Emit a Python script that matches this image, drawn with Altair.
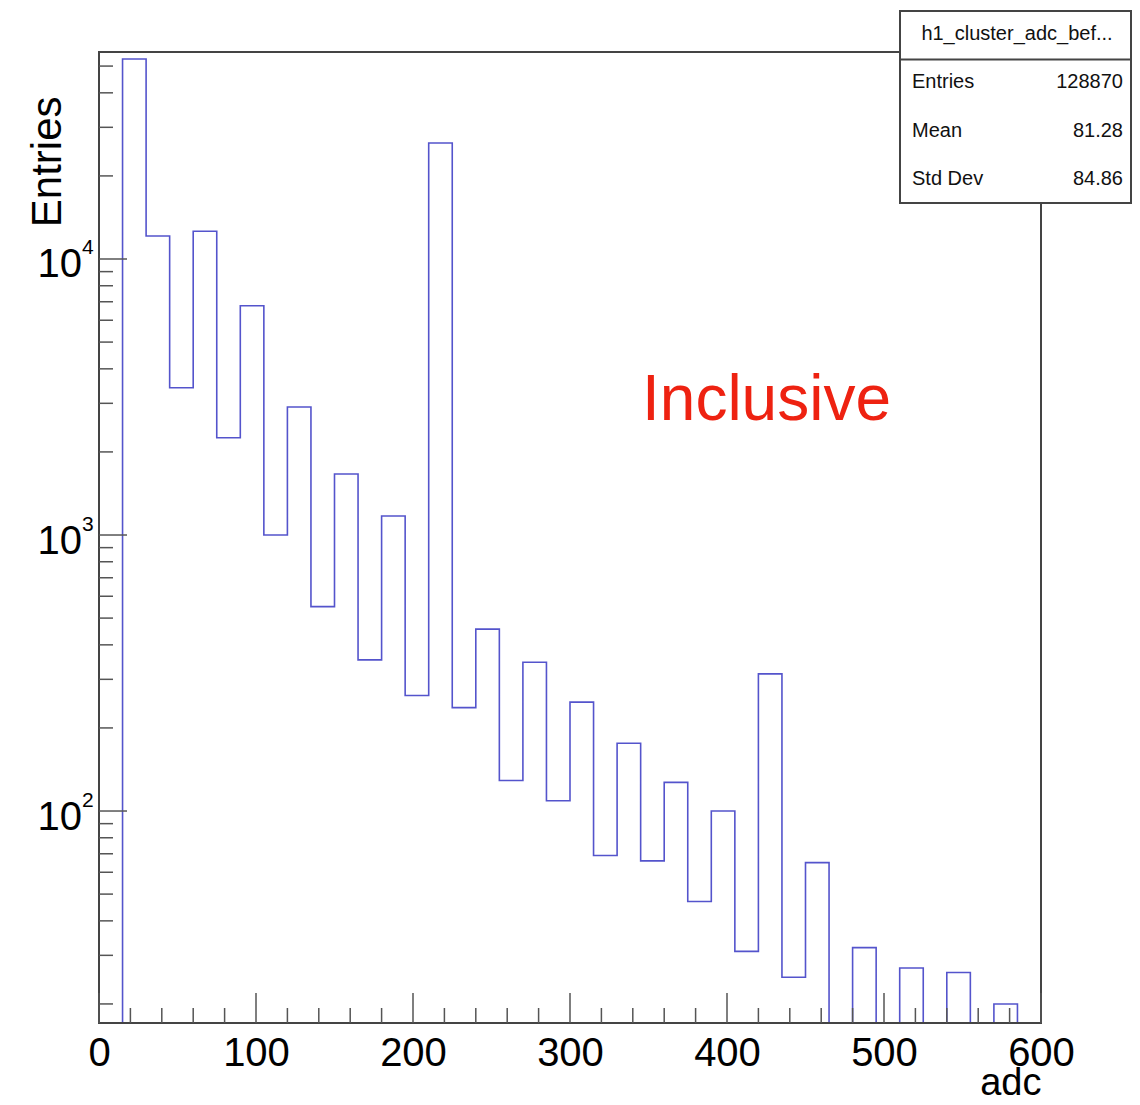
import altair as alt
import pandas as pd

# ---------------- data ----------------
bin_width = 15
bin_low = list(range(15, 585, 15))  # 15 ... 570
counts = [53050, 12115, 3418, 12600, 2252, 6772, 1000, 2910, 550, 1663,
          353, 1172, 262, 26320, 237, 456, 129, 346, 109, 248,
          69, 176, 66, 127, 47, 100, 31, 314, 25, 65,
          0, 32, 0, 27, 0, 26, 0, 20]

x_major = [0, 100, 200, 300, 400, 500, 600]
x_minor = [v for v in range(20, 600, 20) if v % 100 != 0]
y_major = [100, 1000, 10000]
y_minor = [m * d for d in (10, 100, 1000, 10000) for m in range(2, 10) if 17 < m * d < 56000]
y_exponents = ["2", "3", "4"]

stat_title = "h1_cluster_adc_bef..."
stat_names = ["Entries", "Mean", "Std Dev"]
stat_values = ["128870", "81.28", "84.86"]

x_domain = [0, 600]
y_domain = [17.06, 56230]

# ---------------- layout ----------------
W, H = 942, 971
FONT = "Liberation Sans"
FRAME = "#444444"
TICK = "#555555"
LINE = "#5454cc"

# step-outline vertices (histogram drawn as a step line)
FLOOR = 1  # zero bins fall below the clamped log domain -> bottom of frame
xs = [bin_low[0]] + bin_low + [bin_low[-1] + bin_width]
ys = [FLOOR] + [max(c, FLOOR) for c in counts] + [FLOOR]
hist = pd.DataFrame({"x": xs, "y": ys, "i": range(len(xs))})

xscale = alt.Scale(domain=x_domain, nice=False, zero=False)
yscale = alt.Scale(type="log", domain=y_domain, nice=False, clamp=True)

line = alt.Chart(hist).mark_line(
    interpolate="step-after", color=LINE, strokeWidth=1.6
).encode(
    x=alt.X("x:Q", scale=xscale, axis=alt.Axis(
        values=x_major, format="d", grid=False, ticks=False, tickSize=0,
        domain=False, labelFont=FONT, labelFontSize=40, labelColor="black",
        labelPadding=42, labelBaseline="alphabetic", labelFlush=False,
        labelOverlap=False,
        title="adc", titleFont=FONT, titleFontSize=38, titleFontWeight="normal",
        titleColor="black", titleX=W, titleY=71, titleAlign="right",
        titleBaseline="alphabetic", titleAnchor="end")),
    y=alt.Y("y:Q", scale=yscale, axis=alt.Axis(
        labels=False, ticks=False, domain=False, grid=False,
        title="Entries", titleFont=FONT, titleFontSize=42, titleFontWeight="normal",
        titleColor="black", titleX=-39, titleY=44, titleAngle=270,
        titleAlign="right", titleBaseline="alphabetic")),
    order="i:Q",
)

one = pd.DataFrame({"k": [0]})

# bottom frame edge drawn over the histogram outline (hides zero-bin segments)
bottom_edge = alt.Chart(one).mark_rule(color=FRAME, strokeWidth=2).encode(
    x=alt.value(0), x2=alt.value(W), y=alt.value(H))

def xticks(vals, length):
    return alt.Chart(pd.DataFrame({"v": vals})).mark_rule(
        color=TICK, strokeWidth=1.5).encode(
        x=alt.X("v:Q", scale=xscale), y=alt.value(H), y2=alt.value(H - length))

def yticks(vals, length):
    return alt.Chart(pd.DataFrame({"v": vals})).mark_rule(
        color=TICK, strokeWidth=1.5).encode(
        y=alt.Y("v:Q", scale=yscale), x=alt.value(0), x2=alt.value(length))

ylab_df = pd.DataFrame({"v": y_major, "e": y_exponents})
ylab_base = alt.Chart(ylab_df).mark_text(
    font=FONT, fontSize=40, align="right", baseline="alphabetic", dy=18.5,
    color="black").encode(
    y=alt.Y("v:Q", scale=yscale), x=alt.value(-17), text=alt.value("10"))
ylab_exp = alt.Chart(ylab_df).mark_text(
    font=FONT, fontSize=21, align="left", baseline="alphabetic", dy=-4.5,
    color="black").encode(
    y=alt.Y("v:Q", scale=yscale), x=alt.value(-17), text="e:N")

inclusive = alt.Chart(one).mark_text(
    font=FONT, fontSize=64, align="left", baseline="alphabetic",
    color="#ee2211").encode(x=alt.value(543), y=alt.value(368),
                            text=alt.value("Inclusive"))

box = alt.Chart(one).mark_rect(fill="white", stroke=FRAME, strokeWidth=2).encode(
    x=alt.value(801), x2=alt.value(1032), y=alt.value(-41), y2=alt.value(151))
sep = alt.Chart(one).mark_rule(color=FRAME, strokeWidth=2).encode(
    x=alt.value(801), x2=alt.value(1032), y=alt.value(7.5))
box_title = alt.Chart(one).mark_text(
    font=FONT, fontSize=20, align="center", baseline="alphabetic",
    color="#111111").encode(x=alt.value(918), y=alt.value(-12),
                            text=alt.value(stat_title))

stat_layers = []
for k, (nm, val) in enumerate(zip(stat_names, stat_values)):
    yb = 36 + k * 48.5
    stat_layers.append(alt.Chart(one).mark_text(
        font=FONT, fontSize=20, align="left", baseline="alphabetic",
        color="#111111").encode(x=alt.value(813), y=alt.value(yb),
                                text=alt.value(nm)))
    stat_layers.append(alt.Chart(one).mark_text(
        font=FONT, fontSize=20, align="right", baseline="alphabetic",
        color="#111111").encode(x=alt.value(1024), y=alt.value(yb),
                                text=alt.value(val)))

chart = alt.layer(
    line, bottom_edge,
    xticks(x_major, 30), xticks(x_minor, 15),
    yticks(y_major, 28), yticks(y_minor, 14),
    ylab_base, ylab_exp,
    inclusive,
    box, sep, box_title, *stat_layers,
).properties(
    width=W, height=H,
    padding={"left": 91, "top": 44, "right": 91, "bottom": 74},
    autosize=alt.AutoSizeParams(type="none"),
).configure(
    font=FONT, background="white"
).configure_view(
    stroke=FRAME, strokeWidth=2
)

chart.save("out.html", embed_options={"renderer": "svg", "actions": False})
